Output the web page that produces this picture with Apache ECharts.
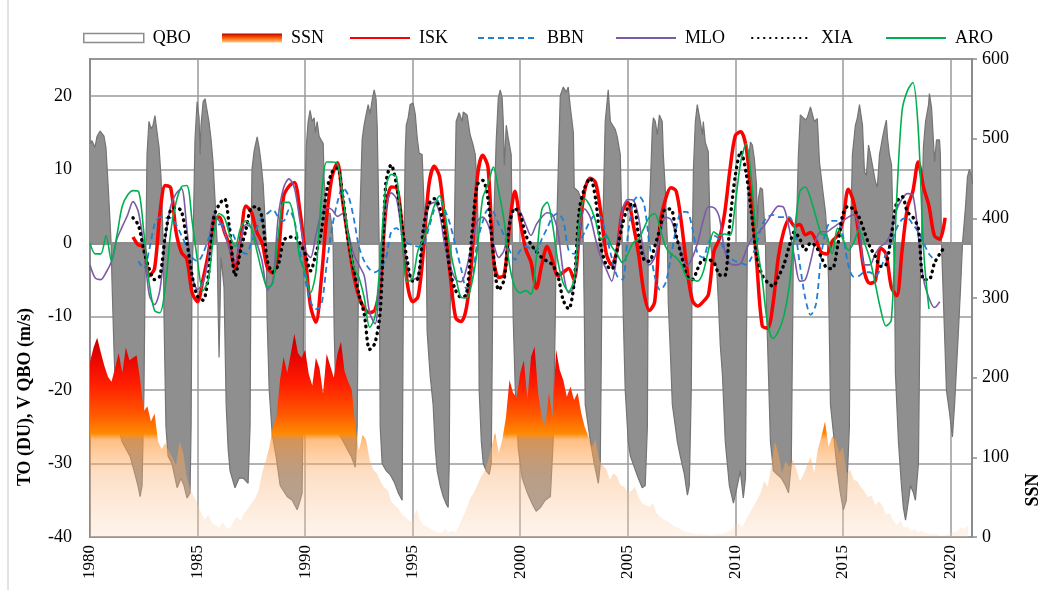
<!DOCTYPE html>
<html><head><meta charset="utf-8">
<script src="https://cdn.jsdelivr.net/npm/echarts@6/dist/echarts.min.js"></script>
<style>html,body{margin:0;padding:0;background:#fff}#c{width:1040px;height:590px}</style>
</head><body><div id="c"></div>
<script>
// ---------- DATA ----------
const qboYear = [1980.00,1980.09,1980.23,1980.33,1980.47,1980.56,1980.65,1980.74,1980.84,1980.93,1980.98,1981.02,1981.12,1981.21,1981.30,1981.49,1981.67,1981.86,1982.05,1982.23,1982.33,1982.42,1982.51,1982.56,1982.60,1982.65,1982.74,1982.84,1982.93,1983.02,1983.12,1983.21,1983.30,1983.35,1983.40,1983.44,1983.53,1983.63,1983.81,1984.05,1984.23,1984.37,1984.51,1984.65,1984.70,1984.74,1984.79,1984.88,1984.98,1985.07,1985.12,1985.16,1985.26,1985.35,1985.44,1985.53,1985.63,1985.72,1985.81,1985.91,1985.95,1986.00,1986.05,1986.09,1986.14,1986.23,1986.33,1986.42,1986.51,1986.74,1986.93,1987.12,1987.35,1987.44,1987.49,1987.53,1987.63,1987.77,1987.86,1987.95,1988.05,1988.14,1988.19,1988.23,1988.33,1988.47,1988.65,1988.84,1989.16,1989.40,1989.63,1989.77,1989.86,1989.91,1989.95,1990.05,1990.14,1990.23,1990.33,1990.42,1990.47,1990.56,1990.65,1990.74,1990.84,1990.88,1990.98,1991.16,1991.26,1991.30,1991.35,1991.44,1991.58,1991.77,1991.95,1992.14,1992.33,1992.42,1992.47,1992.51,1992.60,1992.65,1992.74,1992.84,1992.93,1993.02,1993.12,1993.21,1993.30,1993.35,1993.40,1993.44,1993.49,1993.58,1993.77,1993.95,1994.14,1994.33,1994.42,1994.51,1994.56,1994.60,1994.65,1994.70,1994.79,1994.88,1995.02,1995.12,1995.21,1995.30,1995.44,1995.53,1995.63,1995.67,1995.81,1995.95,1996.05,1996.14,1996.28,1996.42,1996.56,1996.65,1996.70,1996.74,1996.79,1996.93,1996.98,1997.02,1997.16,1997.30,1997.35,1997.53,1997.67,1997.81,1997.91,1998.00,1998.05,1998.09,1998.19,1998.28,1998.42,1998.56,1998.65,1998.70,1998.74,1998.79,1998.88,1998.98,1999.07,1999.16,1999.21,1999.26,1999.35,1999.44,1999.58,1999.63,1999.67,1999.77,1999.91,2000.09,2000.33,2000.56,2000.74,2000.93,2001.16,2001.40,2001.53,2001.63,2001.67,2001.72,2001.86,2002.00,2002.14,2002.23,2002.33,2002.47,2002.51,2002.70,2002.88,2002.93,2002.98,2003.02,2003.26,2003.44,2003.63,2003.72,2003.77,2003.81,2003.86,2003.95,2004.09,2004.19,2004.28,2004.42,2004.51,2004.65,2004.74,2004.79,2004.88,2005.02,2005.12,2005.30,2005.49,2005.67,2005.81,2005.91,2005.95,2006.05,2006.14,2006.19,2006.28,2006.37,2006.47,2006.60,2006.65,2006.74,2006.84,2006.88,2006.98,2007.07,2007.21,2007.30,2007.44,2007.63,2007.77,2007.86,2007.95,2008.00,2008.05,2008.14,2008.23,2008.28,2008.37,2008.47,2008.51,2008.60,2008.74,2008.84,2008.93,2009.12,2009.21,2009.30,2009.40,2009.53,2009.72,2009.91,2010.09,2010.23,2010.37,2010.47,2010.51,2010.56,2010.60,2010.70,2010.79,2010.88,2010.98,2011.02,2011.07,2011.16,2011.26,2011.35,2011.40,2011.44,2011.49,2011.58,2011.63,2011.77,2011.95,2012.14,2012.33,2012.47,2012.60,2012.70,2012.84,2012.93,2013.02,2013.26,2013.35,2013.49,2013.67,2013.81,2013.91,2014.09,2014.19,2014.28,2014.33,2014.42,2014.60,2014.74,2014.88,2015.02,2015.16,2015.30,2015.35,2015.44,2015.58,2015.67,2015.77,2015.91,2016.00,2016.09,2016.19,2016.28,2016.37,2016.51,2016.60,2016.70,2016.84,2016.93,2017.02,2017.07,2017.16,2017.26,2017.35,2017.40,2017.44,2017.58,2017.72,2017.81,2017.91,2018.05,2018.14,2018.28,2018.37,2018.51,2018.60,2018.65,2018.70,2018.74,2018.84,2018.98,2019.02,2019.12,2019.21,2019.26,2019.35,2019.49,2019.53,2019.58,2019.72,2019.81,2019.95,2020.09,2020.19,2020.28,2020.37,2020.47,2020.56,2020.70,2020.79,2020.88,2020.98,2021.02];
const qboVal = [13.5,13.9,13,14.5,15.2,15.4,14.5,13,8,3,0,-5,-15,-22,-25,-27,-28,-29,-31,-33,-34.5,-33,-20,-5,0,12,16.5,15.5,16,17.3,15,13,9,5,0,-10,-25,-29,-30,-33.3,-32,-33,-34.7,-34,-25,-5,0,14,19.2,17,12,16,19.2,19.6,18,16.5,14,11,6,0,-8,-15.6,-8,-2,-2,-6,-22,-28,-31,-33.3,-32,-32,-32.7,-25,0,10,12.5,14.4,13,11,8,3,0,-10,-20,-26,-29,-33,-34.5,-35,-36.3,-35,-34,-20,0,13,16.5,18,16.5,17,15,16.5,14.5,14,13.5,9,4,4,2,0,-12,-22,-26,-27,-28,-29,-30.5,-25,-8,0,0,14,16,17.5,18.8,17.5,19.5,20.8,19.5,16,8,0,-25,-30,-31,-31.5,-32.5,-34,-34.5,-35,-10,0,12,16,17,18.8,19,17.5,14.3,12.2,12,5,0,-12,-18,-22,-28,-31,-33,-34.5,-35.5,-36,-30,-10,0,0,10,16.5,17.7,16.5,17.8,17.4,14.7,13.3,12,7.5,0,-20,-27,-30,-31,-31.5,-30,-15,0,5,13.7,19.7,20.8,19.7,16.5,10.6,16,14.3,12,0,-10,-20,-28,-32,-34,-35.5,-36.5,-36,-35,-34.5,-27,-10,0,5,20,21.2,20.5,21.2,18.4,15,7.5,7,5.6,0,-10,-22,-27,-30,-32.7,-30,-15,0,5,16.5,20.8,16.5,16.3,15.4,14.4,12,0,-10,-20,-27,-29,-30.5,-32,-33.3,-33,-25,0,8,15.6,17,16.5,14.7,17.4,16.5,12,7.5,0,-8,-15,-22,-25,-27,-29,-31.5,-34.3,-33,-20,0,10,16.5,18.8,18.9,16.5,14.7,16.5,13.7,12.4,0,-2,-3,-8,-14,-18,-27,-33,-35.4,-33,-31,-34.7,-32,-15,0,11,13.7,13.3,11.5,8,2,6,7.5,7.3,3,0,-8,-13,-22,-27,-31,-31.5,-32,-33,-34,-30,0,2,12,17.4,16.7,17.1,18.5,16.5,16.9,11,6.5,4.2,0,-5,-22,-27,-31,-34,-36.3,-35,-25,0,12,16,17,18.8,16,9.7,9.2,13.3,12,10.6,8.3,7.6,12,14.3,15.6,16.7,14.3,12,10.6,0,-5,-17.7,-27,-33,-36,-37.7,-35,-33,-34,-35,-30,-5,0,8,13,16.5,18.8,20.3,18.4,13.7,11,14,14,12,0,-12,-20,-23,-26.4,-22,-17,-12,-6,0,5,9,10,9,8];

// SSN, two-monthly values from Jan 1980
const ssnStart = 1980;
const ssnStep = 1 / 6;
const ssnVal = [
220,238,250,232,215,201, 195,212,231,206,238,222, 225,228,197,158,164,145, 155,120,110,118,108,100,
90,120,105,75,60,50, 42,30,22,28,18,15, 12,18,12,10,20,25, 20,30,35,42,48,58,
80,95,112,138,150,197, 226,206,230,255,231,225, 235,205,190,225,212,180, 230,215,200,230,245,208,
195,185,138,108,128,122, 97,84,80,70,62,59, 45,40,36,28,25,20, 20,35,22,15,13,10,
8,6,5,10,6,8, 6,15,25,35,48,55, 65,75,82,95,113,131, 105,122,150,197,181,175,
206,222,172,226,239,180, 150,138,181,150,235,210, 197,176,189,172,181,156, 138,126,113,122,97,90,
85,72,80,76,65,63, 55,58,63,50,42,40, 38,42,30,25,22,20, 17,13,12,9,7,6,
5,3,4,3,3,2, 3,4,3,5,7,9, 15,17,13,22,30,38, 46,55,70,63,88,120,
105,80,95,88,97,85, 70,78,90,100,80,110, 126,145,113,126,122,105, 113,80,84,72,70,63,
57,50,52,40,45,40, 28,30,21,15,21,12, 13,8,10,6,8,5, 4,3,4,2,2,3, 5,6,8,12,10,15];

// ozone series, quarterly values
const lineStep = 0.25;
const iskStart = 1982.0;
const iskVal = [0.8,-0.3,-0.5,-4.5,-3.5,4,7.8,7.5,1.5,-1.3,-2.2,-6.8,-8,-5,-1.5,3,3.5,1.5,-0.5,-3.5,0.5,5,4.2,1.5,0,-3.4,-4.1,-1.5,6.3,7.7,8.2,4.5,-1.5,-8.6,-10.8,-5,3.5,9,10.9,5.5,0.5,-4.3,-7.3,-8.9,-9.5,-9.1,-5.5,4.5,7.6,7.5,2.5,-5.5,-8,-7.3,-1,7.8,10.4,9,2.5,-4.5,-10.2,-10.7,-8.8,-2.3,8.8,11.9,10.3,-2,-4.7,-4.4,2.2,7,2.9,-0.8,-2.6,-6.2,-3,-0.5,-2.4,-4.5,-4,-3.5,-5,1.5,7.2,8.8,8.2,4,-1.5,-3,-1,4.3,5.5,2.5,-1.5,-6.8,-9.2,-8,2.5,5.9,7.5,7,2.5,-3.5,-7.8,-8.6,-8,-7,-1.2,0.5,4,10,14.6,15.1,13,6,-3,-11.3,-11.6,-8.3,-1.9,1.6,3.2,2.3,2.5,1.1,1.4,0.3,-1.3,-1.5,0.2,1,3,7.3,5.5,1,-4,-5.5,-5.2,-0.7,-1.5,-6,-7.2,-1,4.8,7,11,7.5,5,1,0.5,3.4];
const bbnStart = 1982.25;
const bbnVal = [-2.5,-3.5,-1,2.5,3.5,3.4,3.4,2.5,1,-0.5,-2,-2.5,-1.5,0.5,2,2.5,2.5,2,0.5,-1,-1.5,0,2,3.5,4,4.5,3.5,3,4.5,3,-1,-5,-8,-9,-8.5,-3,2,5.5,7.5,6.5,3.5,-0.5,-2.5,-3.6,-4,-3.5,-2.2,1.5,2,1,0,-0.3,-0.5,-0.3,2,4.5,6,4.5,2.4,-0.5,-3.5,-6.2,-5,0,2.8,4.5,4.2,2.5,1,-1,-2.3,-1,-0.5,-0.8,-1,0.5,2,3.5,4,3,-1,-1.5,0,1.5,3,3.8,3.5,1,-2,-4.5,-5,1,5.5,6.4,5.3,0,-4.5,-6.4,-5.5,-2,2,4.2,4.2,2,-1.5,-2,0,1,0.5,-1,-2,-2.5,-2.7,-3,-2,0,2.5,3.5,3.8,3.5,3.5,3.5,2,-3,-7.5,-9.8,-8.3,-1.5,2,3,3,1,-3,-4.6,-4.5,-4,-4,-4.5,-3.5,-1.5,0,2,3.2,3.4,2.5,1.5,0,-1.5,-2.3];
const mloStart = 1980.0;
const mloVal = [-3,-4.8,-5,-4,-2.5,0.5,2.2,3.8,5.6,4.2,-0.5,-7,-8.4,-6.4,0.5,5,6.7,7.4,2,-4.5,-6.3,-5.5,-2,3.8,3,1.5,-1,-2.7,0.5,2.5,2,0,-2.5,-6.4,-5.2,3.5,7.5,8.7,7.5,3.2,-1,-2,1,4,4.8,4.5,3.6,4,1.5,-1.5,-3,-4.5,-9.5,-11,-4,4.5,6.8,6,1,-3.2,-5,-4.5,1,5,5.5,4,-0.5,-3.2,-5,-5.3,-3.5,0,2.9,3.5,2.5,0,-2,-1,2.5,4.6,4.2,2.5,1,2.5,3.5,4.1,3.8,1.5,-4,-6.8,-6,1.5,4.6,3.5,0.5,-2,-3.6,-5.2,-1.5,4.5,5.9,5.8,3.5,-1.5,-3,-2,1,3.5,3.2,1,-1.5,-3.1,-2,0,3,4.9,4.8,3.5,-1,-2.8,-3,-2.8,-1,0.5,1.2,2,3,4.2,5,4.8,2,-2,-5.2,-5,-2.5,0.5,1.5,1.5,2,2.5,3,3.5,3.8,2,-3,-3,-1.5,-0.5,0,1.5,4.5,6,6.7,6.5,1,-5,-7.5,-8.8,-8];
const xiaStart = 1982.0;
const xiaVal = [3.4,2.4,-1,-3.5,-5,-4.5,1,4.5,4.8,4.3,0.2,-4.5,-7.3,-7.8,-4.5,3.4,5.2,6,1.5,-4.5,-1,1.8,4.8,4.9,3.4,-2.5,-4,-3,0.3,0.8,0.8,0,-1.5,-3.8,-1.5,1.5,7,9.6,10.2,6.3,0.5,-3.5,-7,-9.7,-14.5,-13.6,-9,8,10.6,7.8,2.5,-2.5,-5.2,-4.8,2,5.3,6,4.8,1.2,-4,-6.5,-7.4,-7,1,7.9,8.5,6,-1.5,-6.4,-5,2.5,4.7,3.8,1.1,-0.2,-1.2,-2,-2.5,-3,-4.5,-7.8,-9,-5.5,4.5,7.5,8.8,6,-0.5,-3,-3.6,-1,2.5,4.8,5.4,1,-2.3,-2.5,-0.5,2,4.6,4.6,1,-1.8,-4.5,-5,-3.5,-2.3,-2.3,-2.7,-4.3,-4.5,3,9.2,12.4,9.5,4,-2,-4.4,-5.4,-5.9,-4.6,-3,-0.5,1.5,0.5,-1,0,-0.5,-2,-3.4,-3.5,-0.5,3.9,5,4.5,3.5,1.5,-0.5,-1.8,-3.2,-3,1,5.5,6.3,4.2,3.5,2,-5,-5,-2.8,-1.5,-0.5];
const aroStart = 1980.0;
const aroVal = [0,-1.5,-1.5,1,-2.5,1,5,6.5,7.1,7,1.5,-5.5,-9.2,-9.5,-6,1.5,5.5,7.6,7.8,2.9,-2.5,-6.5,-5,1,4,3.4,1,-0.5,2,3,2,-1,-4,-6,-5.5,1,5.5,5.5,3,-2,-4,-6.8,-4,6,11,11,10.8,6.5,1,-3.2,-4.7,-7.5,-11.5,-10,-2,7.5,9.3,9,1,-5.3,-4.8,-1,0.5,2.5,5,6.4,4,-1,-4.5,-7.4,-7.5,-5.5,-1,6,8,10.3,7,3,-3,-6,-6.8,-6.5,-7,-2,4.5,5.5,2.5,-2.5,-5.5,-6.6,-5,3,6,5,3,0.5,1,-0.5,-1.5,-2.7,-1.5,0,0.5,2,3.5,4,2,-0.5,-1.5,-2,-3,-4.8,-5,-5.2,-4,-1,1.5,1,1.2,1,5.5,11,13.5,8.5,0,-5,-11,-13,-12,-10,-6,1.5,7,7.6,6,3.5,1.2,1,-1.5,2,0.5,-1,0,1.8,0,-2.2,-5.5,-9,-11.3,-10.5,6,18,20.7,21.8,15.5,-1,-9];

const leftTicks = [-40, -30, -20, -10, 0, 10, 20];
const rightTicks = [0, 100, 200, 300, 400, 500, 600];
const yearTicks = [1980, 1985, 1990, 1995, 2000, 2005, 2010, 2015, 2020];

// ---------- BUILD ----------
const pairs = (xs, vs) => xs.map((x, i) => [x, vs[i]]);
const reg = (start, step, vs) => vs.map((v, i) => [start + i * step, v]);
const FONT = '"Liberation Serif", "Times New Roman", serif';

const chart = echarts.init(document.getElementById('c'), null, {renderer: 'canvas'});

const ssnGrad = new echarts.graphic.LinearGradient(0, 330, 0, 537, [
  {offset: 0, color: '#b80000'},
  {offset: 0.1, color: '#e00000'},
  {offset: 0.25, color: '#ff1a00'},
  {offset: 0.4, color: '#ff5500'},
  {offset: 0.5, color: '#ff8a00'},
  {offset: 0.53, color: 'rgba(255,150,50,0.62)'},
  {offset: 0.68, color: 'rgba(251,175,110,0.42)'},
  {offset: 1, color: 'rgba(251,215,185,0.28)'}
], true);

const hideSym = {color: 'rgba(0,0,0,0)', borderColor: 'rgba(0,0,0,0)', borderWidth: 0, opacity: 0};

const legendBase = (left, item, extra) => Object.assign({
  left: left, top: 24, itemWidth: 60, itemHeight: 9, itemGap: 0,
  textStyle: {fontFamily: FONT, fontSize: 18, color: '#000', padding: [0, 0, 0, 4]},
  data: [item], selectedMode: false
}, extra || {});

const option = {
  animation: false,
  backgroundColor: '#fff',
  textStyle: {fontFamily: FONT},
  grid: {left: 90, right: 68, top: 59, bottom: 53, show: true, borderColor: '#8c8c8c', borderWidth: 2, backgroundColor: 'transparent'},
  legend: [
    legendBase(78, {name: 'QBO', icon: 'rect', itemStyle: {color: '#fff', borderColor: '#8c8c8c', borderWidth: 1.5}}),
    legendBase(217, {name: 'SSN', icon: 'rect', itemStyle: {color: new echarts.graphic.LinearGradient(0, 0, 0, 1, [{offset: 0, color: '#c00000'}, {offset: 0.5, color: '#ff6000'}, {offset: 1, color: '#ffc890'}])}}),
    legendBase(344, {name: 'ISK', itemStyle: hideSym}, {itemHeight: 14}),
    legendBase(472, {name: 'BBN', itemStyle: hideSym}, {itemHeight: 14}),
    legendBase(610, {name: 'MLO', itemStyle: hideSym}, {itemHeight: 14}),
    legendBase(746, {name: 'XIA', itemStyle: hideSym}, {itemHeight: 14}),
    legendBase(880, {name: 'ARO', itemStyle: hideSym}, {itemHeight: 14})
  ],
  xAxis: {
    type: 'value', min: 1980, max: 2021, interval: 5,
    axisLine: {show: true, lineStyle: {color: '#8c8c8c', width: 2}},
    axisTick: {show: false},
    splitLine: {show: true, lineStyle: {color: '#9a9a9a', width: 1.5}},
    axisLabel: {rotate: 90, fontFamily: FONT, fontSize: 17, color: '#000', margin: 8, showMaxLabel: false,
      formatter: v => yearTicks.indexOf(v) >= 0 ? String(v) : ''}
  },
  yAxis: [
    {
      type: 'value', min: -40, max: 25, interval: 10, position: 'left',
      axisLine: {show: true, lineStyle: {color: '#8c8c8c', width: 2}},
      axisTick: {show: false},
      splitLine: {show: true, lineStyle: {color: '#9a9a9a', width: 1.5}},
      axisLabel: {fontFamily: FONT, fontSize: 18, color: '#000', margin: 18, showMaxLabel: false,
        formatter: v => leftTicks.indexOf(v) >= 0 ? String(v) : ''}
    },
    {
      type: 'value', min: 0, max: 600, interval: 100, position: 'right',
      axisLine: {show: true, lineStyle: {color: '#8c8c8c', width: 2}},
      axisTick: {show: true, length: 5, lineStyle: {color: '#8c8c8c', width: 1.5}},
      splitLine: {show: false},
      axisLabel: {fontFamily: FONT, fontSize: 18, color: '#000', margin: 10,
        formatter: v => rightTicks.indexOf(v) >= 0 ? String(v) : ''}
    }
  ],
  graphic: [
    {type: 'line', shape: {x1: 8, y1: 0, x2: 8, y2: 590}, style: {stroke: '#c8c8c8', lineWidth: 1}},
    {type: 'text', x: 25, y: 397, rotation: Math.PI / 2,
      style: {text: 'TO (DU), V QBO (m/s)', font: 'bold 18px ' + FONT, fill: '#000', textAlign: 'center', textVerticalAlign: 'middle'}},
    {type: 'text', x: 1033, y: 490, rotation: Math.PI / 2,
      style: {text: 'SSN', font: 'bold 18px ' + FONT, fill: '#000', textAlign: 'center', textVerticalAlign: 'middle'}}
  ],
  series: [
    {
      name: 'QBO', type: 'line', yAxisIndex: 0, z: 2, symbol: 'none', smooth: false,
      data: pairs(qboYear, qboVal),
      lineStyle: {color: '#747474', width: 1.2},
      itemStyle: {color: '#8f8f8f'},
      areaStyle: {color: '#8f8f8f', opacity: 1, origin: 0},
      markLine: {silent: true, symbol: 'none', label: {show: false},
        lineStyle: {color: '#8c8c8c', width: 3, type: 'solid'}, data: [{yAxis: 0}]}
    },
    {
      name: 'SSN', type: 'line', yAxisIndex: 1, z: 3, symbol: 'none',
      data: reg(ssnStart, ssnStep, ssnVal),
      lineStyle: {width: 0, color: '#ff6000'},
      itemStyle: {color: '#ff6000'},
      areaStyle: {color: ssnGrad, opacity: 1, origin: 'start'}
    },
    {
      name: 'ISK', type: 'line', yAxisIndex: 0, z: 5, symbol: 'none', smooth: 0.3,
      data: reg(iskStart, lineStep, iskVal),
      lineStyle: {color: '#ff0000', width: 3.5}, itemStyle: {color: '#ff0000'}
    },
    {
      name: 'BBN', type: 'line', yAxisIndex: 0, z: 5, symbol: 'none', smooth: 0.3,
      data: reg(bbnStart, lineStep, bbnVal),
      lineStyle: {color: '#1f7ed6', width: 1.8, type: [6, 4]}, itemStyle: {color: '#1f7ed6'}
    },
    {
      name: 'MLO', type: 'line', yAxisIndex: 0, z: 5, symbol: 'none', smooth: 0.3,
      data: reg(mloStart, lineStep, mloVal),
      lineStyle: {color: '#7b5ba6', width: 1.6}, itemStyle: {color: '#7b5ba6'}
    },
    {
      name: 'XIA', type: 'line', yAxisIndex: 0, z: 5, symbol: 'none', smooth: 0.3,
      data: reg(xiaStart, lineStep, xiaVal),
      lineStyle: {color: '#000', width: 3.4, type: [0.5, 5.5], cap: 'round'}, itemStyle: {color: '#000'}
    },
    {
      name: 'ARO', type: 'line', yAxisIndex: 0, z: 5, symbol: 'none', smooth: 0.3,
      data: reg(aroStart, lineStep, aroVal),
      lineStyle: {color: '#00b050', width: 1.6}, itemStyle: {color: '#00b050'}
    }
  ]
};
chart.setOption(option);
</script>
</body></html>
